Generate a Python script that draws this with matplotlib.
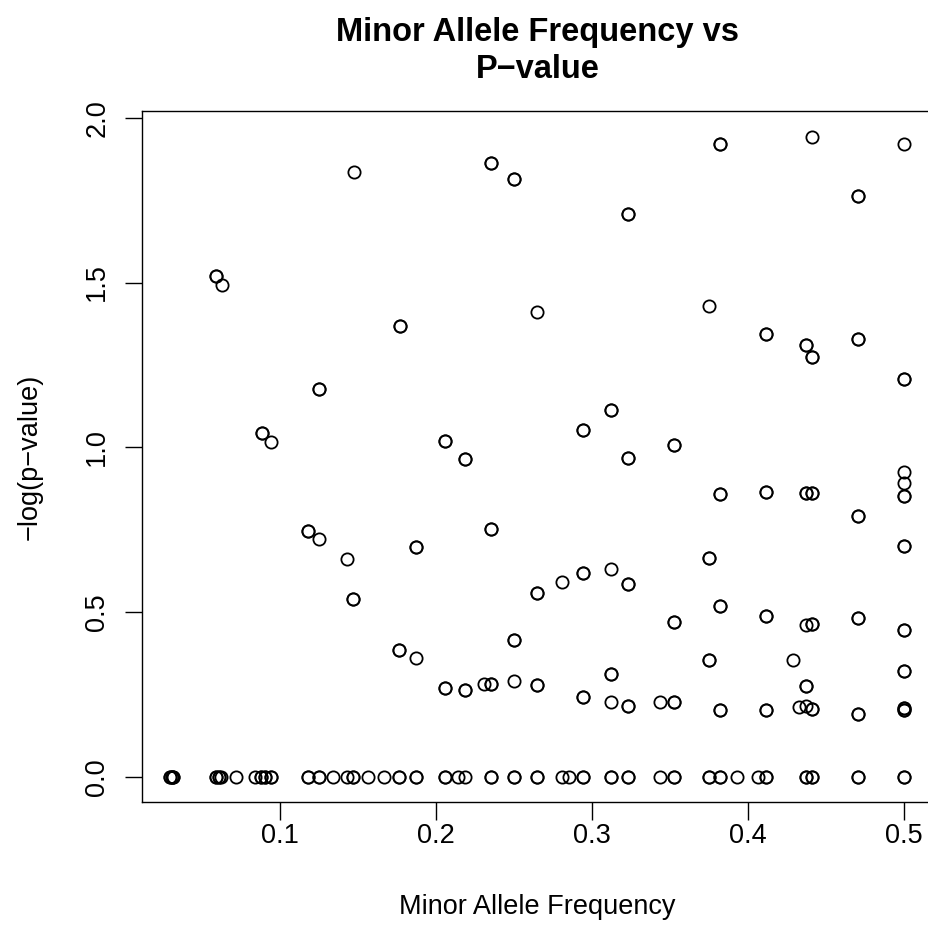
import matplotlib
matplotlib.use("Agg")
import matplotlib.pyplot as plt
import numpy as np

plt.rcParams["font.family"] = ["Liberation Sans", "DejaVu Sans"]

# minor allele frequency, -log(p-value), and how many SNPs sit on the same spot
maf = [
    0.1470, 0.2351, 0.2499, 0.0587, 0.0626, 0.2644, 0.1765, 0.1250, 0.0882, 0.0938,
    0.2058, 0.3822, 0.4410, 0.4998, 0.4705, 0.3232, 0.3747, 0.4115, 0.4371, 0.4410,
    0.4705, 0.4998, 0.3123, 0.2941, 0.3527,
    0.2186, 0.1175, 0.1250, 0.1428, 0.1872, 0.2351, 0.1468, 0.2644, 0.2499, 0.1763,
    0.1872, 0.2058, 0.2186, 0.2306, 0.2351, 0.2499, 0.2644,
    0.3232, 0.4998, 0.4998, 0.4998, 0.3820, 0.4115, 0.4371, 0.4410, 0.4705, 0.4998,
    0.3747, 0.2808, 0.2941, 0.3123, 0.3232, 0.3527, 0.3820, 0.4115, 0.4371, 0.4410,
    0.4705, 0.4998, 0.3747, 0.4286, 0.4371, 0.4998, 0.2941, 0.3123, 0.3232, 0.3123,
    0.3437, 0.3527, 0.3820, 0.4115, 0.4329, 0.4371, 0.4410, 0.4705, 0.4998, 0.4998,
    0.0294, 0.0303, 0.0313, 0.0587, 0.0605, 0.0622, 0.0716, 0.0836, 0.0874, 0.0902,
    0.0940, 0.1175, 0.1250, 0.1336, 0.1430, 0.1468, 0.1562, 0.1667, 0.1763, 0.1872,
    0.2058, 0.2141, 0.2186, 0.2351, 0.2499, 0.2644, 0.2808, 0.2853, 0.2941, 0.3123,
    0.3232, 0.3437, 0.3527, 0.3747, 0.3820, 0.3927, 0.4063, 0.4115, 0.4371, 0.4410,
    0.4705, 0.4998,
]
neg_log_p = [
    1.834, 1.863, 1.814, 1.521, 1.493, 1.411, 1.367, 1.177, 1.043, 1.017,
    1.021, 1.920, 1.942, 1.920, 1.763, 1.709, 1.429, 1.345, 1.311, 1.273,
    1.330, 1.207, 1.115, 1.053, 1.007,
    0.966, 0.748, 0.722, 0.662, 0.699, 0.752, 0.540, 0.559, 0.415, 0.386,
    0.363, 0.270, 0.266, 0.282, 0.284, 0.291, 0.280,
    0.967, 0.926, 0.893, 0.853, 0.859, 0.866, 0.861, 0.861, 0.791, 0.701,
    0.665, 0.592, 0.619, 0.633, 0.585, 0.472, 0.520, 0.490, 0.461, 0.466,
    0.484, 0.447, 0.357, 0.357, 0.277, 0.321, 0.243, 0.228, 0.216, 0.313,
    0.228, 0.228, 0.204, 0.204, 0.212, 0.217, 0.206, 0.191, 0.203, 0.209,
    0, 0, 0, 0, 0, 0, 0, 0, 0, 0,
    0, 0, 0, 0, 0, 0, 0, 0, 0, 0,
    0, 0, 0, 0, 0, 0, 0, 0, 0, 0,
    0, 0, 0, 0, 0, 0, 0, 0, 0, 0,
    0, 0,
]
n_snps = [
    1, 2, 2, 2, 1, 1, 2, 2, 2, 1,
    2, 2, 1, 1, 2, 2, 1, 2, 2, 2,
    2, 2, 2, 2, 2,
    2, 2, 1, 1, 2, 2, 2, 2, 2, 2,
    1, 2, 2, 1, 2, 1, 2,
    2, 1, 1, 2, 2, 2, 2, 2, 2, 2,
    2, 1, 2, 1, 2, 2, 2, 2, 1, 2,
    2, 2, 2, 1, 2, 2, 2, 1, 2, 2,
    1, 2, 2, 2, 1, 1, 2, 2, 2, 2,
    2, 2, 2, 2, 2, 1, 1, 1, 2, 2,
    2, 2, 2, 1, 1, 2, 1, 1, 2, 2,
    2, 1, 1, 2, 2, 2, 1, 1, 2, 2,
    2, 1, 2, 2, 2, 1, 1, 2, 2, 2,
    2, 2,
]

x = np.repeat(maf, n_snps)
y = np.repeat(neg_log_p, n_snps)

W, H = 929, 938
fig = plt.figure(figsize=(W / 100, H / 100), dpi=100)
# plot region in pixels: left 141.7, right 933.4, top 110.7, bottom 802.3
ax = fig.add_axes([141.7 / W, 1 - 802.3 / H, (933.4 - 141.7) / W, (802.3 - 110.7) / H])

ax.plot(x, y, linestyle="none", marker="o", markersize=8.8,
        markerfacecolor="none", markeredgecolor="black", markeredgewidth=1.3)

ax.set_xlim(0.0111, 0.5188)
ax.set_ylim(-0.0758, 2.021)
ax.set_xticks([0.1, 0.2, 0.3, 0.4, 0.5])
ax.set_xticklabels(["0.1", "0.2", "0.3", "0.4", "0.5"])
ax.set_yticks([0.0, 0.5, 1.0, 1.5, 2.0])
ax.set_yticklabels(["0.0", "0.5", "1.0", "1.5", "2.0"])
ax.tick_params(axis="both", direction="out", length=12.6, width=1.0,
               labelsize=19.5, colors="black")
ax.tick_params(axis="x", pad=2)
ax.tick_params(axis="y", pad=10, labelrotation=90)
for lab in ax.get_yticklabels():
    lab.set_va("center")

for s in ax.spines.values():
    s.set_linewidth(1.0)

ax.set_xlabel("Minor Allele Frequency", fontsize=19.5, labelpad=33)
ax.set_ylabel("\u2212log(p\u2212value)", fontsize=19.5, labelpad=30)
fig.text(537.5 / W, 1 - 51 / H, "Minor Allele Frequency vs\nP\u2212value",
         ha="center", va="center", fontsize=23.5, fontweight="bold", linespacing=1.22)

fig.savefig("out.png", dpi=100)
